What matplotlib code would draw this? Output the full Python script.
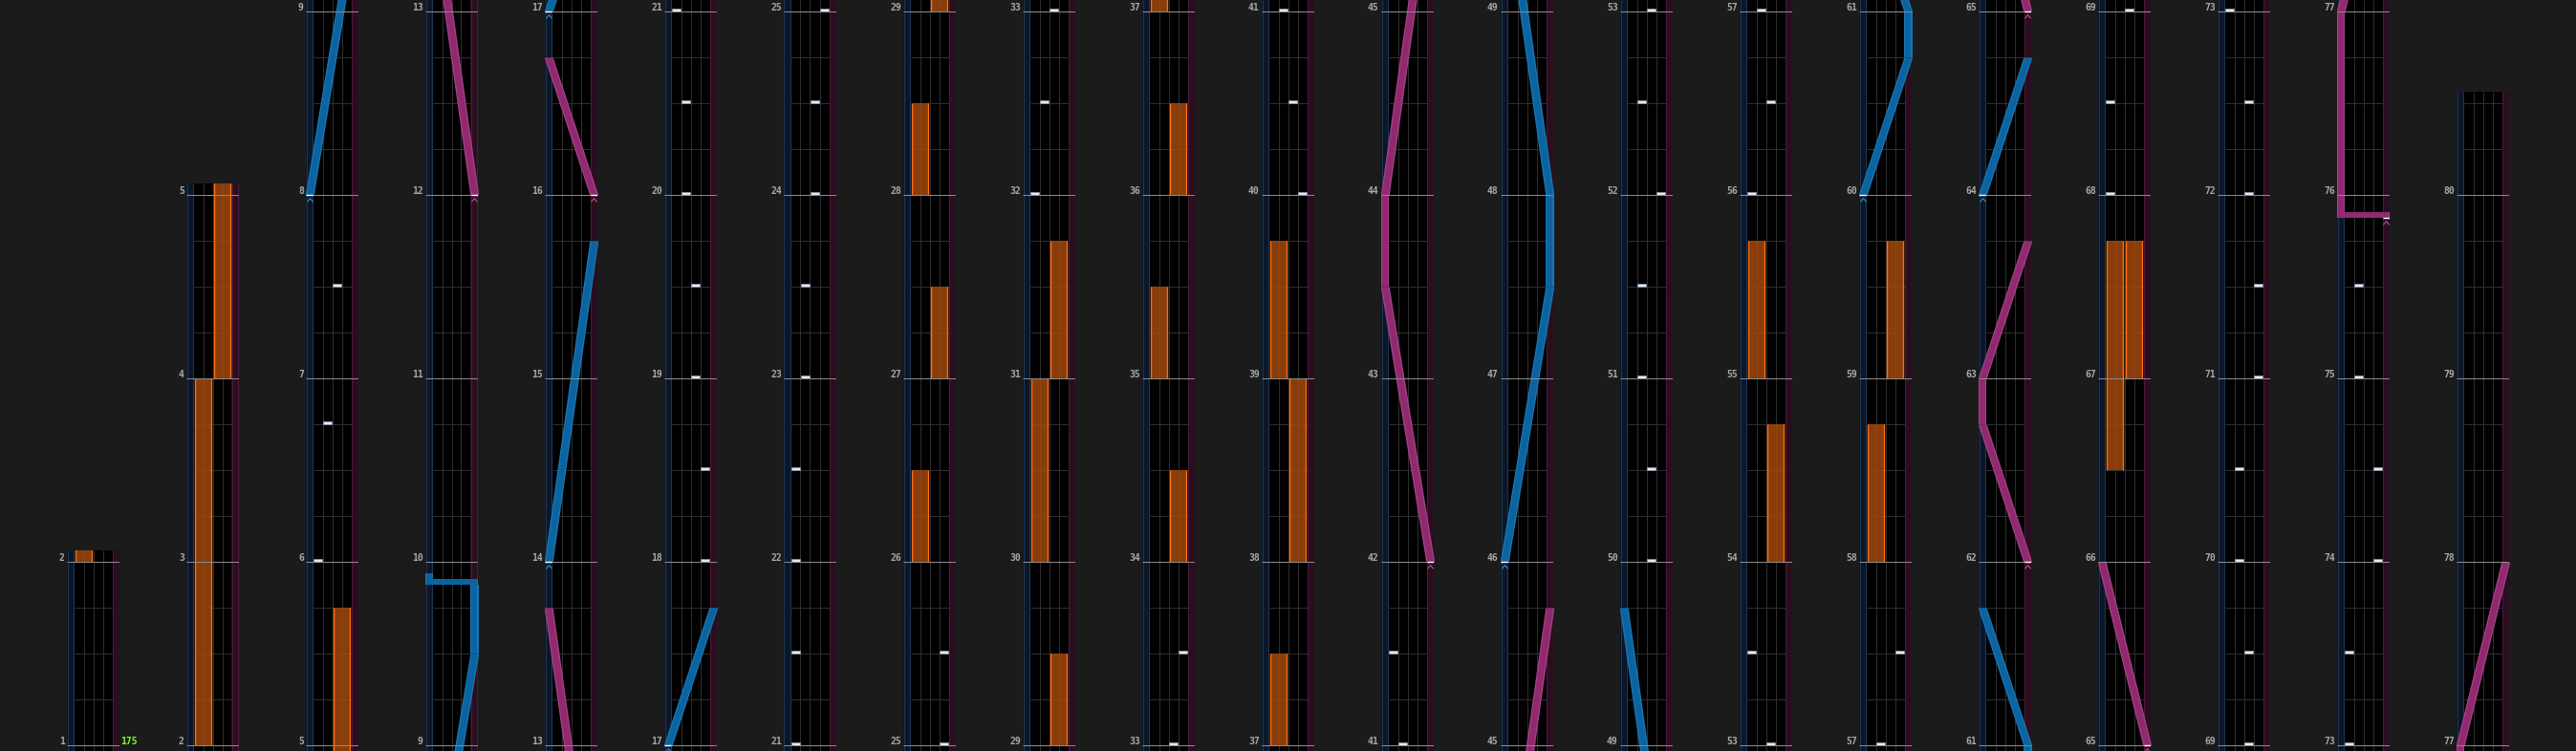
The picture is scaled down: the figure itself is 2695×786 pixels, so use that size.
from __future__ import annotations

import matplotlib
import numpy as np

matplotlib.use("Agg")
import matplotlib.pyplot as plt  # noqa: E402
from matplotlib.patches import Rectangle  # noqa: E402
from matplotlib.path import Path  # noqa: E402

BPM = 175
CHART_END = 80.5625  # chart stops a bit past measure 80

# each page column: first measure at the bottom, last measure line at the top
COLUMN_START = [1, 2, 5, 9, 13, 17, 21, 25, 29, 33, 37, 41, 45, 49, 53, 57, 61, 65, 69, 73, 77]
COLUMN_STOP = [2, 5, 9, 13, 17, 21, 25, 29, 33, 37, 41, 45, 49, 53, 57, 61, 65, 69, 73, 77, 81]

# BT chips (time in measures, lane 0..3 = A..D)
CHIP_TIMES = [
    6, 6.75, 7.5,
    18, 18.5, 19, 19.5, 20, 20.5, 21, 21.5, 22, 22.5, 23, 23.5, 24, 24.5, 25, 25.5,
    32, 32.5, 33, 33.5,
    40, 40.5, 41, 41.5,
    50, 50.5, 51, 51.5, 52, 52.5, 53, 53.5,
    56, 56.5, 57, 57.5,
    68, 68.5, 69, 69.5, 70, 70.5, 71, 71.5, 72, 72.5, 73, 73.5, 74, 74.5, 75, 75.5,
]
CHIP_LANES = [
    0, 1, 2,
    3, 3, 2, 2, 1, 1, 0, 0, 0, 0, 1, 1, 2, 2, 3, 3,
    0, 1, 2, 3,
    3, 2, 1, 0,
    2, 2, 1, 1, 3, 1, 2, 0,
    0, 2, 1, 3,
    0, 0, 2, 2, 1, 1, 3, 3, 2, 2, 0, 0, 3, 3, 1, 1,
]

# FX holds: side 0 = left (A+B), 1 = right (C+D)
FX_SIDES = [0, 1, 0, 1, 0, 1, 0, 1, 1, 0, 1, 0, 1, 0, 1, 0, 0, 1, 0, 1]
FX_STARTS = [2, 4, 26, 27, 28, 29, 30, 31, 34, 35, 36, 37, 38, 39, 54, 55, 58, 59, 66.5, 67]
FX_ENDS = [4, 5.75, 26.5, 27.5, 28.5, 29.5, 31, 31.75, 34.5, 35.5, 36.5, 37.5, 39, 39.75,
           54.75, 55.75, 58.75, 59.75, 67.75, 67.75]

# lasers: (measure, position 0=left..1=right); two points at one time = slam
LEFT_LASERS = [
    [(8, 0), (9.5, 1), (9.875, 1), (9.875, 0), (9.9375, 0)],
    [(14, 0), (15.75, 1)],
    [(17, 0), (17.75, 1)],
    [(46, 0), (47.5, 1), (48, 1), (49.75, 0)],
    [(60, 0), (60.75, 1), (61, 1), (61.75, 0)],
    [(64, 0), (64.75, 1)],
]
RIGHT_LASERS = [
    [(12, 1), (13.75, 0)],
    [(16, 1), (16.75, 0)],
    [(42, 1), (43.5, 0), (44, 0), (45.75, 1)],
    [(62, 1), (62.75, 0), (63, 0), (63.75, 1)],
    [(65, 1), (66, 0)],
    [(75.875, 1), (75.875, 0), (77, 0), (78, 1)],
]

FIG_W, FIG_H = 2695, 786
PAGE_LEFT, PAGE_STEP, PAGE_W = 70, 125, 55
MEASURE_PX = 192
BASE_Y = 780  # pixel row of each column's first measure line

BG = "#1b1b1b"
GRID = "#2e2e2e"
MEASURE = "#8a8a8a"
BLUE_STRIP, BLUE_EDGE = "#0c1629", "#1c3652"
PINK_STRIP, PINK_EDGE = "#2a0e1f", "#4a1a37"
FX_FILL, FX_EDGE = "#a2490c", "#ff6f12"
BLUE, BLUE_GLOW, BLUE_LIGHT = "#0b64a0", "#1a76b3", "#3b8bc4"
PINK, PINK_GLOW, PINK_LIGHT = "#8f2a6e", "#a83f89", "#c04e98"
LABEL = "#a8a8a8"
SLAM_H = 6 / MEASURE_PX

CHEVRON = Path([(-1.0, -0.6), (0.0, 0.6), (1.0, -0.6)], [Path.MOVETO, Path.LINETO, Path.LINETO])


def laser_x(pos: float) -> float:
    return -0.375 + 4.75 * pos


def draw_band(ax, points, half: float, color: str, z: float) -> None:
    for (t0, p0), (t1, p1) in zip(points[:-1], points[1:]):
        x0, x1 = laser_x(p0), laser_x(p1)
        if t1 == t0:
            lo_x, hi_x = min(x0, x1), max(x0, x1)
            ax.add_patch(Rectangle((lo_x - half, t0), hi_x - lo_x + 2 * half, SLAM_H,
                                   facecolor=color, lw=0, zorder=z))
        else:
            ax.fill_betweenx([t0, t1], [x0 - half, x1 - half], [x0 + half, x1 + half],
                             color=color, lw=0, zorder=z)


def draw_laser(ax, points, color: str, glow: str, light: str) -> None:
    draw_band(ax, points, 0.45, glow, 5)
    draw_band(ax, points, 0.32, color, 5.5)
    t0, p0 = points[0]
    x0 = laser_x(p0)
    ax.hlines(t0, x0 - 0.35, x0 + 0.35, color="white", lw=1.0, zorder=7)
    ax.plot([x0], [t0 - 5 / MEASURE_PX], marker=CHEVRON, ms=4.5, mfc="none",
            mec=light, mew=0.8, zorder=7)


def draw_column(fig, k: int) -> None:
    start = COLUMN_START[k]
    stop = min(COLUMN_STOP[k] + 1 / 16, CHART_END)
    lo = start - (FIG_H - BASE_Y) / MEASURE_PX
    height_px = (stop - lo) * MEASURE_PX
    left_px = PAGE_LEFT + PAGE_STEP * k
    ax = fig.add_axes([left_px / FIG_W, 0, PAGE_W / FIG_W, height_px / FIG_H])
    ax.set_xlim(-0.75, 4.75)
    ax.set_ylim(lo, stop)
    ax.set_facecolor("black")
    ax.set_xticks([])
    ax.set_yticks([])
    for spine in ax.spines.values():
        spine.set_visible(False)

    ax.axvspan(-0.75, 0, color=BLUE_STRIP, lw=0, zorder=0.5)
    ax.axvspan(4, 4.75, color=PINK_STRIP, lw=0, zorder=0.5)
    ax.vlines([-0.7, -0.05], lo, stop, color=BLUE_EDGE, lw=0.8, zorder=0.6)
    ax.vlines([4.05, 4.7], lo, stop, color=PINK_EDGE, lw=0.8, zorder=0.6)
    ax.vlines([1, 2, 3], lo, stop, color=GRID, lw=0.75, zorder=1)

    beats = np.arange(np.ceil(lo * 4) / 4, stop, 0.25)
    beats = beats[beats % 1 != 0]
    ax.hlines(beats, 0, 4, color=GRID, lw=0.75, zorder=1)
    measures = np.arange(int(np.ceil(lo)), int(np.floor(stop)) + 1)
    ax.hlines(measures, -0.75, 4.75, color=MEASURE, lw=0.75, zorder=6)
    for m in measures:
        ax.annotate(str(m), xy=(-0.75, m), xytext=(-1.6, 0.6), textcoords="offset points",
                    ha="right", va="baseline", fontsize=7, fontweight="bold",
                    family="DejaVu Sans Mono", color=LABEL, annotation_clip=False)

    for side, t0, t1 in zip(FX_SIDES, FX_STARTS, FX_ENDS):
        if t1 < lo or t0 > stop:
            continue
        x0 = side * 2 + 0.1
        ax.add_patch(Rectangle((x0, t0), 1.8, t1 - t0, facecolor=FX_FILL, alpha=0.85,
                               lw=0, zorder=3))
        ax.vlines([x0 + 0.05, x0 + 1.75], t0, t1, color=FX_EDGE, lw=1.0, zorder=3.5)

    for t, lane in zip(CHIP_TIMES, CHIP_LANES):
        if lo <= t <= stop:
            ax.add_patch(Rectangle((lane + 0.08, t), 0.84, 3 / MEASURE_PX,
                                   facecolor="#e4eaf2", edgecolor="#8d9bb0", lw=0.5, zorder=4))

    for points in LEFT_LASERS:
        draw_laser(ax, points, BLUE, BLUE_GLOW, BLUE_LIGHT)
    for points in RIGHT_LASERS:
        draw_laser(ax, points, PINK, PINK_GLOW, PINK_LIGHT)

    if k == 0:
        ax.annotate(str(BPM), xy=(4.75, start), xytext=(1.0, 0.6), textcoords="offset points",
                    ha="left", va="baseline", fontsize=7, fontweight="bold",
                    family="DejaVu Sans Mono", color="#78ff1e", annotation_clip=False)


def main() -> None:
    fig = plt.figure(figsize=(FIG_W / 100, FIG_H / 100), dpi=100)
    fig.patch.set_facecolor(BG)
    for k in range(len(COLUMN_START)):
        draw_column(fig, k)
    fig.savefig("out.png", dpi=100, facecolor=BG)
    plt.close(fig)


if __name__ == "__main__":
    main()
